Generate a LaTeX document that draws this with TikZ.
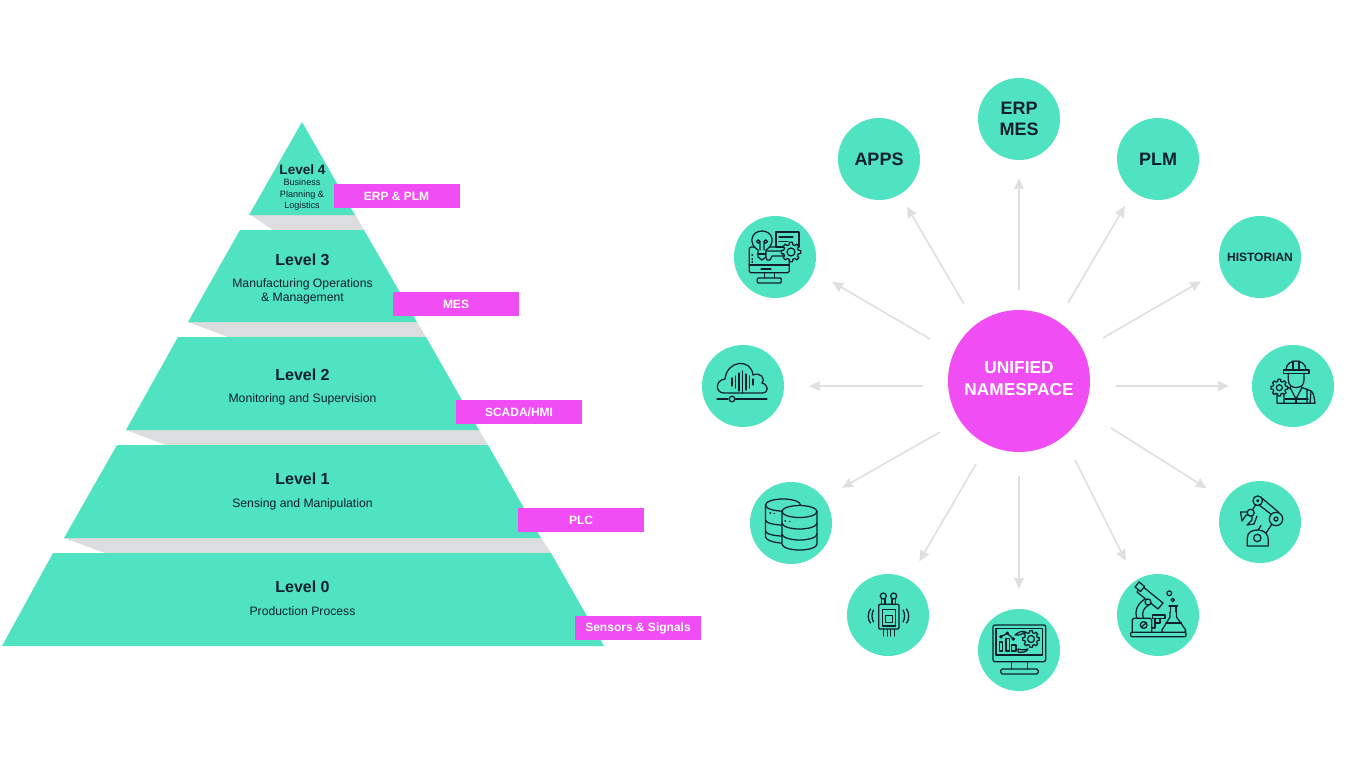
\documentclass[tikz,border=0pt]{standalone}
\usepackage{fontspec}
\setmainfont{Liberation Sans}
\usetikzlibrary{arrows.meta}
\definecolor{mint}{HTML}{50E3C2}
\definecolor{pink}{HTML}{F04DF5}
\definecolor{ink}{HTML}{10202F}
\definecolor{shade}{HTML}{DCDDDF}
\definecolor{arrowgray}{HTML}{DEDFE0}
\newcommand\fsz[1]{\fontsize{#1}{#1}\selectfont}
\newcommand\gearat[4]{%
  \draw[ico,fill=mint,shift={(#1,#2)}] (-14:#3) \foreach \a in {0,45,...,315}{ -- (\a-14:#3) -- (\a-9:{#3*1.3}) -- (\a+9:{#3*1.3}) -- (\a+14:#3) } -- cycle;
  \draw[ico] (#1,#2) circle[radius=#4];}
\tikzset{
  tier/.style={fill=mint,draw=none},
  gap/.style={fill=shade,draw=none},
  title/.style={inner sep=0pt,text=ink,font=\bfseries\fsz{16}},
  sub/.style={inner sep=0pt,text=ink,align=center,font=\fsz{12.2},execute at begin node={\baselineskip=14.5pt}},
  tag/.style={fill=pink,inner sep=0pt,minimum width=126pt,minimum height=24pt,text=white,font=\bfseries\fsz{12}},
  sys/.style={circle,fill=mint,inner sep=0pt,minimum size=82pt,text=ink,align=center,font=\bfseries\fsz{18},execute at begin node={\baselineskip=21.5pt}},
  hubn/.style={circle,fill=pink,inner sep=0pt,minimum size=142pt,text=white,align=center,font=\bfseries\fsz{17.3},execute at begin node={\baselineskip=22pt}},
  flow/.style={draw=arrowgray,line width=1.6pt,-{Stealth[length=11pt,width=10pt,inset=1pt]}},
  ico/.style={draw=ink,line width=1.25pt,line join=round,line cap=round},
}
\begin{document}
\begin{tikzpicture}[x=1pt,y=-1pt]
\useasboundingbox (0,0) rectangle (1366,768);
\fill[white] (0,0) rectangle (1366,768);
% connecting shadows
\fill[gap] (249,214) -- (273,230) -- (364,230) -- (355,214) -- cycle;
\fill[gap] (188,322) -- (228,337) -- (426,337) -- (417,322) -- cycle;
\fill[gap] (126,430) -- (166,445) -- (488,445) -- (479,430) -- cycle;
\fill[gap] (64,538) -- (105,553) -- (551,553) -- (541,538) -- cycle;
% tiers
\fill[tier] (302,122) -- (355,215) -- (249,215) -- cycle;
\fill[tier] (240,230) -- (364,230) -- (417,322) -- (188,322) -- cycle;
\fill[tier] (178,337) -- (426,337) -- (479,430) -- (126,430) -- cycle;
\fill[tier] (117,445) -- (488,445) -- (541,538) -- (64,538) -- cycle;
\fill[tier] (53,553) -- (551,553) -- (604,646) -- (2,646) -- cycle;
% tier labels
\node[title,font=\bfseries\fsz{13.6}] (t4) at (302.5,170) {Level 4};
\node[sub,font=\fsz{9.1},execute at begin node={\baselineskip=11.3pt}] (d4) at (302,194.8) {Business\\Planning \&\\Logistics};
\node[title] (t3) at (302.5,260) {Level 3};
\node[sub] (d3) at (302.5,291.5) {Manufacturing Operations\\\& Management};
\node[title] (t2) at (302.5,375) {Level 2};
\node[sub] (d2) at (302.5,399) {Monitoring and Supervision};
\node[title] (t1) at (302.5,479) {Level 1};
\node[sub] (d1) at (302.5,504) {Sensing and Manipulation};
\node[title] (t0) at (302.5,587) {Level 0};
\node[sub] (d0) at (302.5,611) {Production Process};
% tags
\node[tag] (g4) at (396.5,196) {ERP \& PLM};
\node[tag] (g3) at (456,304) {MES};
\node[tag] (g2) at (519,412) {SCADA/HMI};
\node[tag] (g1) at (581,520) {PLC};
\node[tag] (g0) at (638,628) {Sensors \& Signals};
% hub and satellites
\node[hubn,text depth=4pt] (hub) at (1019,381) {UNIFIED\\NAMESPACE};
\node[sys] (erp) at (1019,119) {ERP\\MES};
\node[sys] (apps) at (879,159) {APPS};
\node[sys] (plm) at (1158,159) {PLM};
\node[sys,font=\bfseries\fsz{12}] (hist) at (1260,257) {HISTORIAN};
\node[sys] (idea) at (775,257) {};
\node[sys] (cloud) at (743,386) {};
\node[sys] (worker) at (1293,386) {};
\node[sys] (db) at (791,523) {};
\node[sys] (robot) at (1260,522) {};
\node[sys] (sensor) at (888,615) {};
\node[sys] (lab) at (1158,615) {};
\node[sys] (mon) at (1019,650) {};
% arrow starts
\coordinate (s1) at (964,304);
\coordinate (s2) at (1019,290);
\coordinate (s3) at (1068,303);
\coordinate (s4) at (1103,338);
\coordinate (s5) at (1116,386);
\coordinate (s6) at (1111,428);
\coordinate (s7) at (1075,460);
\coordinate (s8) at (1019,476);
\coordinate (s9) at (976,464);
\coordinate (s10) at (940,432);
\coordinate (s11) at (923,386);
\coordinate (s12) at (930,339);
\draw[flow,shorten >=14pt] (s1) -- (apps);
\draw[flow,shorten >=18pt] (s2) -- (erp);
\draw[flow,shorten >=16.5pt] (s3) -- (plm.233);
\draw[flow,shorten >=23pt] (s4) -- (hist.198);
\draw[flow,shorten >=23pt] (s5) -- (worker);
\draw[flow,shorten >=22pt] (s6) -- (robot);
\draw[flow,shorten >=22pt] (s7) -- (lab.123);
\draw[flow,shorten >=20pt] (s8) -- (mon);
\draw[flow,shorten >=21pt] (s9) -- (sensor);
\draw[flow,shorten >=21pt] (s10) -- (db.37);
\draw[flow,shorten >=25pt] (s11) -- (cloud);
\draw[flow,shorten >=21.5pt] (s12) -- (idea.-20);
% icon: computer with bulb and gear
\begin{scope}[shift={(775,257)}]
  \draw[ico,rounded corners=1.5pt] (-25.7,15.7) rectangle (14.3,-10);
  \draw[ico] (-25.7,8) -- (14.3,8);
  \draw[ico] (-10.7,15.7) -- (-10.7,21) (-0.7,15.7) -- (-0.7,21);
  \draw[ico,rounded corners=1pt] (-17.7,21) rectangle (6.3,26);
  \draw[ico] (-14,12) -- (-4,12);
  \draw[ico,fill=mint] (1,-25) rectangle (24,-10);
  \draw[ico] (4,-20) -- (18,-20) (4,-15.5) -- (13,-15.5);
  \draw[ico,fill=mint] (-17,-7) .. controls (-27,-13) and (-24,-26) .. (-13,-26) .. controls (-2,-26) and (1,-13) .. (-9,-7) -- (-9,0) -- (-13,3) -- (-17,0) -- cycle;
  \draw[ico] (-17,-3) -- (-9,-3);
  \draw[ico] (-15,-7) -- (-15,-15.5) arc[start angle=0,end angle=-360,radius=1.8];
  \draw[ico] (-11,-7) -- (-11,-15.5) arc[start angle=180,end angle=540,radius=1.8];
  \draw[ico,fill=mint] (-9,-6) -- (8,-6) -- (8,-1) -- (-3,-1) -- (-5,3) -- (-8,3) -- (-9,0) -- cycle;
  \gearat{16}{-5}{7.5}{4}
  \draw[ico] (-23,-2) -- (-22.5,-2) (-23,2) -- (-22.5,2) (-23,5) -- (-22.5,5);
\end{scope}
% icon: cloud with sound wave
\begin{scope}[shift={(743,386)}]
  \draw[ico] (-19,7) .. controls (-28,7) and (-28,-6) .. (-18,-7) .. controls (-16,-26) and (8,-28) .. (10,-11) .. controls (17,-14) and (23,-8) .. (19,-3) .. controls (26,-1) and (26,7) .. (19,7) -- cycle;
  \foreach \bx/\bh in {-11/4,-7.5/6,-4/9,-0.5/11,3/8,6.5/6,10/3}{
    \draw[ico] (\bx,-4-\bh) -- (\bx,-4+\bh);}
  \draw[ico] (-26,13) -- (-15,13) (-7.5,13) -- (24,13);
  \draw[ico] (-11,13) circle[radius=2.8];
\end{scope}
% icon: database
\begin{scope}[shift={(791,523)}]
  \draw[ico] (-25.5,-18) arc[start angle=180,end angle=360,x radius=17.5,y radius=6];
  \draw[ico] (-25.5,-18) -- (-25.5,14) .. controls (-25.5,17) and (-16,20) .. (-9,20);
  \draw[ico] (-25.5,-18) .. controls (-25.5,-14) and (-16,-12) .. (-9,-12);
  \draw[ico] (-25.5,-3) .. controls (-25.5,0) and (-16,2) .. (-9,2);
  \draw[ico] (-25.5,8) .. controls (-25.5,11) and (-16,13) .. (-9,13);
  \draw[ico,fill=mint] (-9,-11.5) -- (-9,21) arc[start angle=180,end angle=0,x radius=17.5,y radius=6] -- (26,-11.5) -- cycle;
  \draw[ico,fill=mint] (8.5,-11.5) ellipse[x radius=17.5,y radius=6];
  \draw[ico] (-9,0) arc[start angle=180,end angle=0,x radius=17.5,y radius=6];
  \draw[ico] (-9,11) arc[start angle=180,end angle=0,x radius=17.5,y radius=6];
  \draw[ico] (-21,-10) -- (-20.5,-10) (-17,-9.5) -- (-16.5,-9.5) (-6,-2) -- (-5.5,-2) (-1.5,-1.5) -- (-1,-1.5);
\end{scope}
% icon: sensor
\begin{scope}[shift={(888,615)}]
  \draw[ico,rounded corners=1pt] (-9.3,-10.7) rectangle (11,14);
  \draw[ico] (-5.3,-5.7) rectangle (7.3,11);
  \draw[ico] (-2.3,0.7) rectangle (4.3,7.3);
  \draw[ico] (-4.7,-19) circle[radius=3] (5.7,-19) circle[radius=3];
  \draw[ico] (-6.5,-16.5) -- (-6.5,-10.7) (-3,-16.5) -- (-3,-10.7) (4,-16.5) -- (4,-10.7) (7.5,-16.5) -- (7.5,-10.7);
  \draw[ico] (-4.7,14) -- (-4.7,21) (-0.7,14) -- (-0.7,21) (2.7,14) -- (2.7,21) (6.7,14) -- (6.7,21);
  \draw[ico] (-14.5,-5) .. controls (-16.5,-2) and (-16.5,4) .. (-14.5,7);
  \draw[ico] (-17.5,-6) .. controls (-20.5,-2) and (-20.5,5) .. (-17.5,8);
  \draw[ico] (15,-5) .. controls (17,-2) and (17,4) .. (15,7);
  \draw[ico] (18.5,-6) .. controls (21.5,-2) and (21.5,5) .. (18.5,8);
\end{scope}
% icon: monitor with dashboard
\begin{scope}[shift={(1019,650)}]
  \draw[ico,rounded corners=2pt] (-26,-25) rectangle (26.7,11.7);
  \draw[ico] (-23,-21.7) rectangle (23.3,5);
  \draw[ico] (-7.3,11.7) -- (-7.3,19) (8.3,11.7) -- (8.3,19);
  \draw[ico,rounded corners=1.5pt] (-18.3,19) rectangle (19.3,24);
  \draw[ico] (-19.7,-8) rectangle (-16.3,1) (-13,-11.7) rectangle (-9.7,1) (-7.3,-5) rectangle (-3,1);
  \draw[ico] (-18,-13.3) -- (-11.7,-16.7) -- (-5.7,-11);
  \draw[ico,fill=ink] (-18,-13.3) circle[radius=1.2] (-11.7,-16.7) circle[radius=1.2] (-5.7,-11) circle[radius=1.2];
  \draw[ico] (-4,-15) .. controls (-1,-18) and (3,-19) .. (6,-18.5) .. controls (4,-15.5) and (0,-14.5) .. (-4,-15) -- cycle;
  \draw[ico] (-1,-1) .. controls (2,0) and (6,0) .. (9,-1) .. controls (8,2) and (2,3) .. (-1,2) -- cycle;
  \gearat{12}{-11}{6.5}{3.5}
\end{scope}
% icon: microscope and flask
\begin{scope}[shift={(1158,615)}]
  \draw[ico,rounded corners=1pt] (-27.3,17.3) rectangle (28,21.7);
  \draw[ico,rounded corners=1.5pt] (-25.7,17.3) -- (-25.7,3.3) -- (-6.3,3.3) -- (-6.3,17.3);
  \draw[ico] (-14.3,10) circle[radius=3.4];
  \draw[ico] (-16.5,12) -- (-12,8);
  \draw[ico] (-21,3.3) .. controls (-24,-4) and (-20,-12) .. (-13,-16);
  \draw[ico] (-14.5,3.3) .. controls (-17,-2) and (-14,-8) .. (-9,-10);
  \draw[ico,fill=mint] (-16,-29) -- (5,-12) -- (0,-6) -- (-21,-23) -- cycle;
  \draw[ico,fill=mint] (-23,-28) -- (-19,-33) -- (-13.5,-28.5) -- (-17.5,-23.5) -- cycle;
  \draw[ico,fill=mint] (-10,-13) circle[radius=3];
  \draw[ico] (-5.3,0) rectangle (7,3.3);
  \draw[ico] (-3,3.3) -- (-3,13) -- (-6.3,13) (2,3.3) -- (2,8) -- (-3,8);
  \draw[ico,fill=mint] (12,-3) -- (12,2) -- (4,15) .. controls (3,17) and (4,17.3) .. (6,17.3) -- (26,17.3) .. controls (28,17.3) and (28.5,16) .. (27,14) -- (18.5,2) -- (18.5,-3);
  \draw[ico] (8,8) -- (23.5,8);
  \draw[ico] (12.5,-8) -- (12.5,-3) (18,-8) -- (18,-3) (11,-9) -- (19.5,-9);
  \draw[ico] (11.3,-21.7) circle[radius=2.4] (14.7,-15) circle[radius=1.7];
\end{scope}
% icon: robot arm
\begin{scope}[shift={(1260,522)}]
  \draw[ico] (-12.7,24) -- (-12.7,16) .. controls (-12.7,10) and (-8,8) .. (-2,8) .. controls (4,8) and (8.3,12) .. (8.3,18) -- (8.3,24) -- cycle;
  \draw[ico] (-2.7,16) circle[radius=3.7];
  \draw[ico] (1,3.5) -- (-2,8) (12,2) -- (6,11);
  \draw[ico] (-6,-21) -- (12,-7) (0.5,-25) -- (19,-9.5);
  \draw[ico,fill=mint] (16,-3) circle[radius=6.7];
  \draw[ico] (16,-3) circle[radius=2];
  \draw[ico,fill=mint] (-2.3,-21.3) circle[radius=4.8];
  \draw[ico] (-2.3,-21.3) circle[radius=1];
  \draw[ico] (-4.5,-17) -- (-7,-13);
  \draw[ico,fill=mint] (-9.3,-9.3) circle[radius=3.5];
  \draw[ico] (-12.5,-10) -- (-19.5,-10) -- (-18,-1) -- (-14,-7) -- (-12,-7);
  \draw[ico] (-8,-6) -- (-8,-2) -- (-13,3) -- (-6,2) -- (-3,-6);
\end{scope}
% icon: worker and gear
\begin{scope}[shift={(1293,386)}]
  \draw[ico] (-7,-16) .. controls (-7,-28) and (13,-28) .. (13,-16);
  \draw[ico] (-9.7,-16) rectangle (16,-12.7);
  \draw[ico] (0,-25) -- (0,-17) (6,-25) -- (6,-17);
  \draw[ico] (-4.7,-12.7) -- (-4.7,-6) .. controls (-4.7,0) and (0,1.5) .. (3,1.5) .. controls (7,1.5) and (11,0) .. (11,-6) -- (11,-12.7);
  \draw[ico] (-2,0.5) -- (-3,1.5) -- (-16,7) -- (-16,17.3) -- (22,17.3) .. controls (21,10) and (20.5,7) .. (18,5) -- (9,1.5) -- (8,0.5);
  \draw[ico] (-3,1.5) -- (3,13) -- (9,1.5);
  \draw[ico] (-8,13) -- (15,13);
  \draw[ico] (3,13) -- (3,17.3);
  \draw[ico] (-9,5) -- (-9,17.3) (14,3) -- (14,17.3) (18,5) -- (17,17.3);
  \gearat{-13.7}{1.7}{6.5}{3}
\end{scope}
\end{tikzpicture}
\end{document}
